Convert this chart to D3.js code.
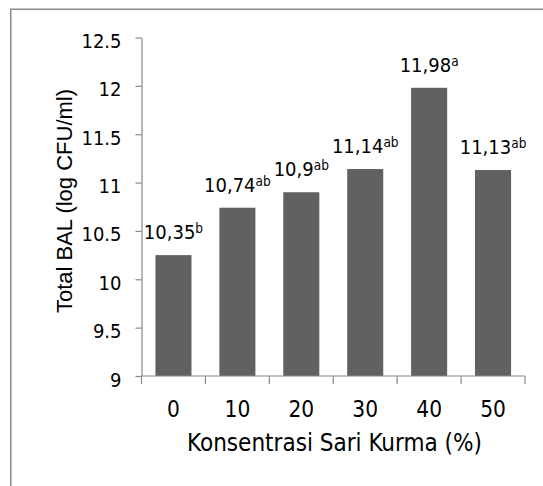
<!DOCTYPE html>
<html>
<head>
<meta charset="utf-8">
<script src="https://cdn.jsdelivr.net/npm/d3@7"></script>
<style>
  html, body { margin: 0; padding: 0; background: #fff; }
  svg { display: block; }
  .cond { font-family: "DejaVu Sans Condensed", "DejaVu Sans", sans-serif; font-stretch: condensed; }
</style>
</head>
<body>
<svg id="chart" width="543" height="486"></svg>
<script>
// ---- data ----
const categories = ["0", "10", "20", "30", "40", "50"];
const values = [10.25, 10.74, 10.9, 11.14, 11.98, 11.13];
const valueLabels = ["10,35", "10,74", "10,9", "11,14", "11,98", "11,13"];
const letters = ["b", "ab", "ab", "ab", "a", "ab"];
const yTicks = [9, 9.5, 10, 10.5, 11, 11.5, 12, 12.5];
const xTitle = "Konsentrasi Sari Kurma (%)";
const yTitle = "Total BAL (log CFU/ml)";

const svg = d3.select("#chart");
const W = 543, H = 486;

// outer frame (clipped box)
svg.append("path")
  .attr("d", `M10.75,${H} V9.25 H${W}`)
  .attr("fill", "none").attr("stroke", "#8a8a8a").attr("stroke-width", 1.5);

const x = d3.scaleBand().domain(categories).range([141.5, 525])
  .paddingInner(0.436).paddingOuter(0.218);
const y = d3.scaleLinear().domain([9, 12.5]).range([376, 37.5]);

const axisColor = "#898989";

// bars
svg.append("g").selectAll("rect").data(values).join("rect")
  .attr("x", (d, i) => x(categories[i]))
  .attr("y", d => y(d))
  .attr("width", x.bandwidth())
  .attr("height", d => y(9) - y(d))
  .attr("fill", "#616161");

// y axis
const yAxis = svg.append("g").attr("transform", "translate(141.5,0)")
  .call(d3.axisLeft(y).tickValues(yTicks).tickSize(6).tickPadding(14)
    .tickFormat(d => String(d)).tickSizeOuter(0));
yAxis.select(".domain").attr("stroke", axisColor).attr("stroke-width", 1.2);
yAxis.selectAll(".tick line").attr("stroke", axisColor).attr("stroke-width", 1.2);
yAxis.selectAll(".tick text")
  .attr("class", "cond")
  .attr("font-size", 20).attr("fill", "#000").attr("dy", "0.5em");

// x axis: line + boundary ticks
const xg = svg.append("g").attr("transform", "translate(0,376)");
const [x0, x1] = x.range();
xg.append("line").attr("x1", x0).attr("x2", x1).attr("y1", 0).attr("y2", 0)
  .attr("stroke", axisColor).attr("stroke-width", 1.2);
const bounds = d3.range(categories.length + 1).map(i => x0 + i * x.step());
xg.selectAll(".bt").data(bounds).join("line").attr("class", "bt")
  .attr("x1", d => d).attr("x2", d => d).attr("y1", 0).attr("y2", 8)
  .attr("stroke", axisColor).attr("stroke-width", 1.2);

const xAxis = svg.append("g").attr("transform", "translate(0,376)")
  .call(d3.axisBottom(x).tickSize(0).tickPadding(25.3));
xAxis.select(".domain").remove();
xAxis.selectAll(".tick text")
  .attr("class", "cond")
  .attr("font-size", 22.5).attr("fill", "#000");

// data labels with superscript letters
const lbl = svg.append("g").selectAll("text").data(values).join("text")
  .attr("class", "cond")
  .attr("x", (d, i) => x(categories[i]) + x.bandwidth() / 2)
  .attr("y", d => y(d) - 16)
  .attr("text-anchor", "middle")
  .attr("font-size", 20)
  .attr("fill", "#000");
lbl.append("tspan").text((d, i) => valueLabels[i]);
lbl.append("tspan").attr("font-size", 13.5).attr("dy", -6).text((d, i) => letters[i]);

// axis titles
svg.append("text").attr("class", "cond")
  .attr("x", 334.5).attr("y", 451)
  .attr("text-anchor", "middle").attr("font-size", 24).attr("fill", "#000")
  .text(xTitle);

svg.append("text")
  .attr("transform", "translate(72,201) rotate(-90)")
  .attr("text-anchor", "middle")
  .attr("font-family", "'Liberation Sans', Arial, sans-serif")
  .attr("font-size", 22).attr("fill", "#000")
  .text(yTitle);
</script>
</body>
</html>
